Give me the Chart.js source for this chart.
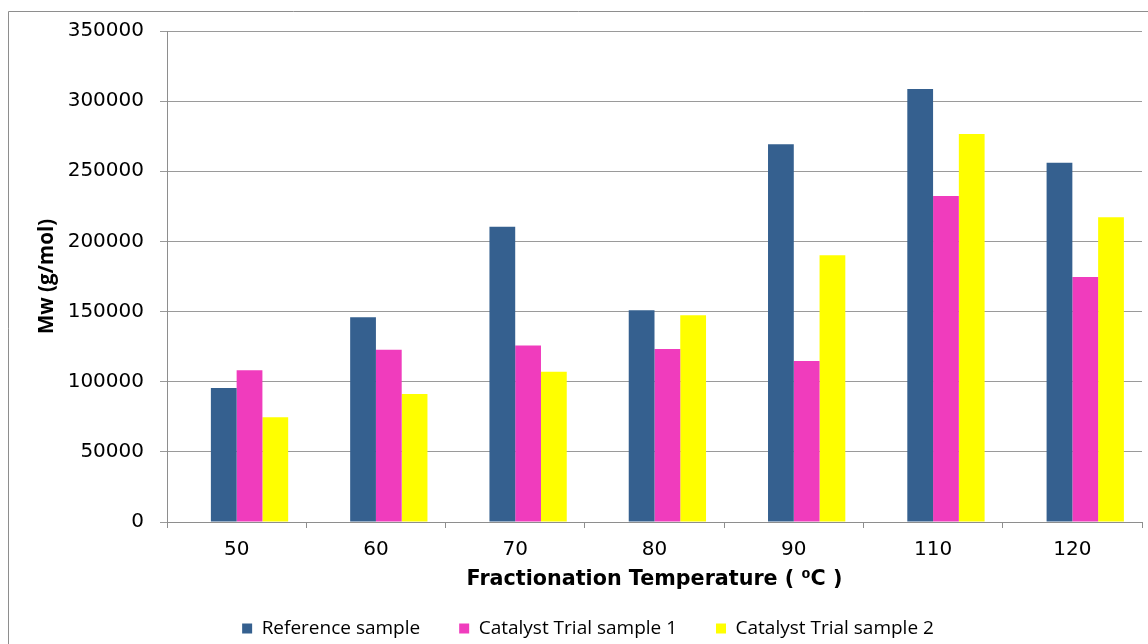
<!DOCTYPE html>
<html><head><meta charset="utf-8">
<script src="https://cdn.jsdelivr.net/npm/chart.js@4"></script>
<style>html,body{margin:0;padding:0;background:#fff;overflow:hidden}</style>
</head><body>
<canvas id="c" width="1148" height="644"></canvas>
<script>
const categories = ['50', '60', '70', '80', '90', '110', '120'];
const referenceSample = [95500, 145900, 210500, 150900, 269200, 308600, 256100];
const catalystTrial1 = [108100, 122800, 125900, 123300, 114800, 232400, 174600];
const catalystTrial2 = [74600, 91200, 107100, 147300, 190100, 276600, 217200];
const emptySlot = [null, null, null, null, null, null, null];
const seriesNames = ['Reference sample', 'Catalyst Trial sample 1', 'Catalyst Trial sample 2'];
const yTickValues = [0, 50000, 100000, 150000, 200000, 250000, 300000, 350000];
const xTitle = 'Fractionation Temperature ( \u2070C )';
const yTitle = 'Mw (g/mol)';

const frame = {
  id: 'frame',
  beforeDraw(chart) {
    const ctx = chart.ctx;
    ctx.save();
    ctx.strokeStyle = '#8e8e8e';
    ctx.lineWidth = 1;
    ctx.beginPath();
    ctx.moveTo(8.5, 650);
    ctx.lineTo(8.5, 11.5);
    ctx.lineTo(1160, 11.5);
    ctx.stroke();
    ctx.restore();
  }
};
const legendFit = {
  id: 'legendFit',
  beforeInit(chart) {
    const lg = chart.legend;
    if (!lg) return;
    const orig = lg.fit;
    lg.fit = function () { orig.call(this); this.height = 64; };
  }
};

new Chart(document.getElementById('c'), {
  type: 'bar',
  data: {
    labels: categories,
    datasets: [
      { label: '', data: emptySlot, backgroundColor: 'rgba(0,0,0,0)' },
      { label: seriesNames[0], data: referenceSample, backgroundColor: '#35608f' },
      { label: seriesNames[1], data: catalystTrial1, backgroundColor: '#f03cbd' },
      { label: seriesNames[2], data: catalystTrial2, backgroundColor: '#ffff00' }
    ]
  },
  plugins: [frame, legendFit],
  options: {
    responsive: false,
    animation: false,
    devicePixelRatio: 1,
    layout: { padding: { left: 34, right: 6, top: 31, bottom: 0 } },
    datasets: { bar: { categoryPercentage: 0.74, barPercentage: 1.0, borderWidth: 0 } },
    plugins: {
      legend: {
        position: 'bottom',
        labels: {
          filter: (item) => item.text !== '',
          boxWidth: 10, boxHeight: 10, padding: 39,
          color: '#000',
          font: { family: 'Open Sans', size: 19 }
        }
      },
      tooltip: { enabled: false }
    },
    scales: {
      x: {
        grid: { drawOnChartArea: false, drawTicks: true, tickLength: 6, color: '#8e8e8e' },
        border: { color: '#8e8e8e' },
        ticks: { color: '#000', padding: 10, font: { family: 'DejaVu Sans', size: 20 } },
        title: { display: true, text: xTitle, color: '#000', padding: { top: 0, bottom: -12 },
                 font: { family: 'DejaVu Sans', size: 20.7, weight: 'bold' } },
        afterFit(s) { s.height = 58; }
      },
      y: {
        min: 0, max: 350000,
        afterBuildTicks(s) { s.ticks = yTickValues.map(v => ({ value: v })); },
        grid: { color: '#9a9a9a', tickLength: 7 },
        border: { color: '#8e8e8e' },
        ticks: { color: '#000', padding: 16, font: { family: 'DejaVu Sans', size: 20 }, callback: (v) => String(v) },
        title: { display: true, text: yTitle, color: '#000', padding: { top: 1, bottom: 0 },
                 font: { family: 'Open Sans', size: 20.5, weight: 'bold' } },
        afterFit(s) { s.width = 133; }
      }
    }
  }
});
</script>
</body></html>
